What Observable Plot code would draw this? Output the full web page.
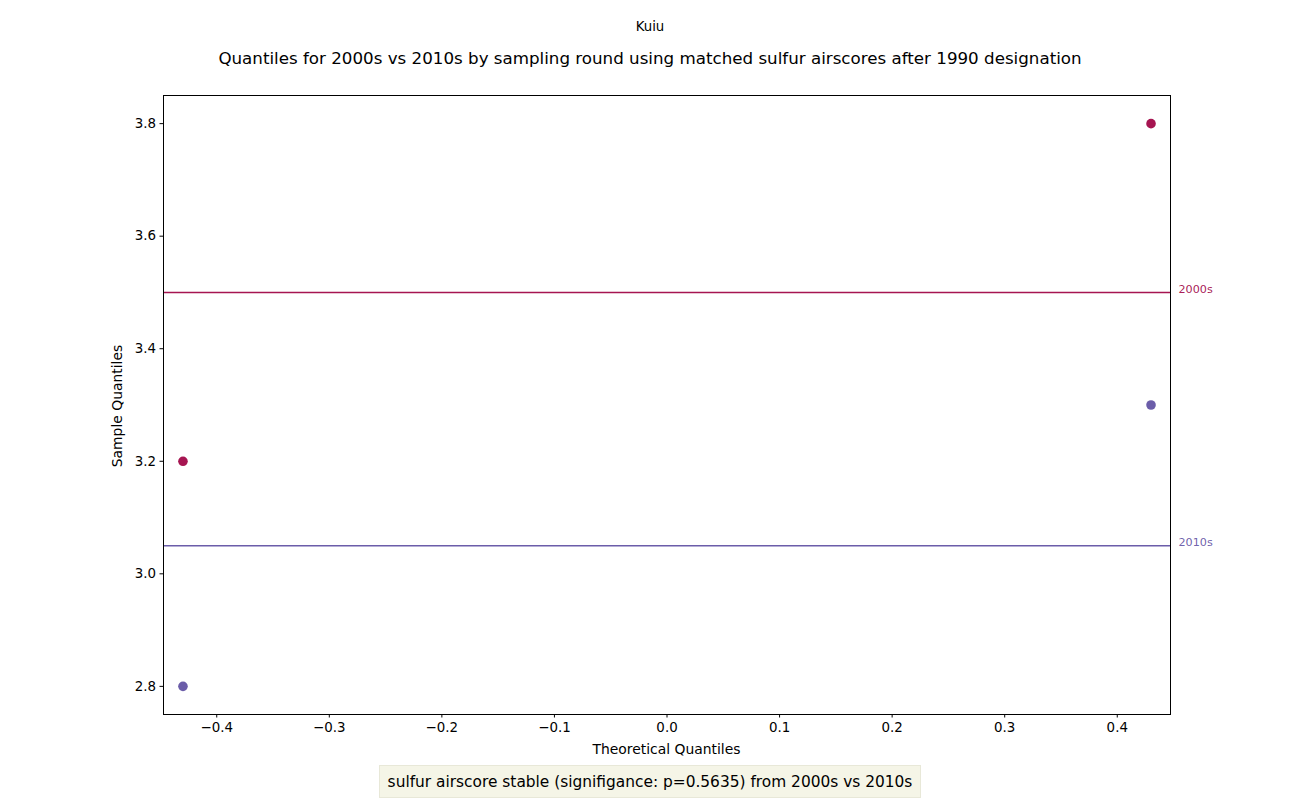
<!DOCTYPE html>
<html>
<head>
<meta charset="utf-8">
<script src="https://cdn.jsdelivr.net/npm/d3@7"></script>
<script src="https://cdn.jsdelivr.net/npm/@observablehq/plot@0.6"></script>
<style>
  body { margin: 0; background: #fff; font-family: "DejaVu Sans", sans-serif; }
  #wrap { position: relative; width: 1300px; height: 802px; overflow: hidden; }
  .abs { position: absolute; white-space: nowrap; color: #000; }
</style>
</head>
<body>
<div id="wrap">
  <div class="abs" id="title" style="left:0;width:1300px;top:19px;text-align:center;font-size:13.3px;">Kuiu</div>
  <div class="abs" id="subtitle" style="left:0;width:1300px;top:48px;text-align:center;font-size:16.7px;">Quantiles for 2000s vs 2010s by sampling round using matched sulfur airscores after 1990 designation</div>
  <div class="abs" id="xlabel" style="left:163px;width:1007px;top:741px;text-align:center;font-size:13.9px;">Theoretical Quantiles</div>
  <div class="abs" id="ylabel" style="left:117px;top:406px;font-size:13.9px;transform:translate(-50%,-50%) rotate(-90deg);">Sample Quantiles</div>
  <div class="abs" id="caption" style="left:379px;top:765px;width:542px;height:33px;line-height:33px;text-align:center;font-size:15.4px;background:#f5f5e7;border:1px solid #e8e8d8;box-sizing:border-box;">sulfur airscore stable (signifigance: p=0.5635) from 2000s vs 2010s</div>
</div>
<script>
const groups = ["2000s", "2010s"];
const colors = ["#9e0142", "#5e4fa2"];
const theoretical = [-0.43, 0.43];
const sample2000s = [3.2, 3.8];
const sample2010s = [2.8, 3.3];
const means = [3.5, 3.05];
const xTicks = [-0.4, -0.3, -0.2, -0.1, 0.0, 0.1, 0.2, 0.3, 0.4];
const yTicks = [2.8, 3.0, 3.2, 3.4, 3.6, 3.8];

const points = [];
theoretical.forEach((t, i) => {
  points.push({x: t, y: sample2000s[i], g: groups[0]});
  points.push({x: t, y: sample2010s[i], g: groups[1]});
});
const lines = groups.map((g, i) => ({g, y: means[i]}));
const colorOf = g => colors[groups.indexOf(g)];

const xDomain = [-0.4473, 0.4473];
const chart = Plot.plot({
  width: 1300,
  height: 802,
  marginLeft: 163,
  marginRight: 130,
  marginTop: 95,
  marginBottom: 88,
  style: {fontFamily: "DejaVu Sans, sans-serif", fontSize: "13.4px", color: "#000", background: "transparent"},
  x: {domain: xDomain, ticks: xTicks, tickFormat: d3.format(".1f")},
  y: {domain: [2.75, 3.85], ticks: yTicks, tickFormat: d3.format(".1f")},
  marks: [
    Plot.ruleY(lines, {y: "y", stroke: d => colorOf(d.g), strokeWidth: 1.5, strokeOpacity: 0.92}),
    Plot.dot(points, {x: "x", y: "y", r: 4.8, fill: d => colorOf(d.g), fillOpacity: 0.92, stroke: "none"}),
    Plot.text(lines, {x: xDomain[1], y: "y", text: "g", fill: d => colorOf(d.g), fillOpacity: 0.9, textAnchor: "start", dx: 8, dy: -3, fontSize: 11.2}),
    Plot.frame({stroke: "#000", strokeWidth: 1}),
    Plot.axisX({ticks: xTicks, tickFormat: d3.format(".1f"), tickSize: 3.5, tickPadding: 4, fontSize: 13.4, label: null}),
    Plot.axisY({ticks: yTicks, tickFormat: d3.format(".1f"), tickSize: 3.5, tickPadding: 4, fontSize: 13.4, label: null})
  ]
});
chart.style.position = "absolute";
chart.style.left = "0";
chart.style.top = "0";
document.getElementById("wrap").prepend(chart);
</script>
</body>
</html>
